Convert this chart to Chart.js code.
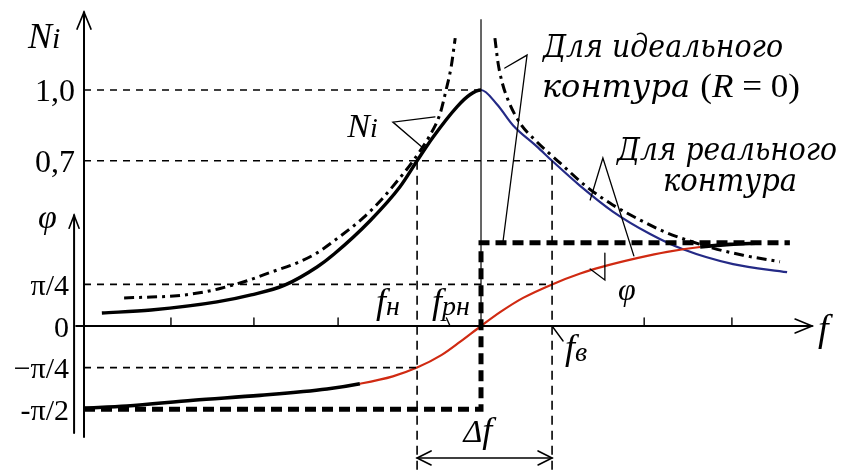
<!DOCTYPE html>
<html>
<head>
<meta charset="utf-8">
<script src="https://cdn.jsdelivr.net/npm/chart.js@4/dist/chart.umd.min.js"></script>
<style>
  html, body { margin: 0; padding: 0; background: #fff; overflow: hidden; }
</style>
</head>
<body>
<canvas id="grafico" width="842" height="472"></canvas>
<script>
// частота в долях резонансной: f / fрез
const fRez = 1.0;
const fN = 0.839;   // нижняя граница полосы
const fV = 1.179;   // верхняя граница полосы

// реальный контур, Ni
const niRealF = [0.045, 0.169, 0.335, 0.421, 0.504, 0.587, 0.630, 0.720, 0.796, 0.839, 0.879, 0.940, 0.972, 1.0,
                 1.04, 1.081, 1.141, 1.179, 1.249, 1.332, 1.426, 1.509, 1.635, 1.771];
const niReal  = [0.055, 0.068, 0.102, 0.132, 0.172, 0.250, 0.305, 0.445, 0.590, 0.70, 0.80, 0.93, 0.98, 1.0,
                 0.94, 0.85, 0.76, 0.70, 0.595, 0.485, 0.39, 0.325, 0.262, 0.228];

// идеальный контур (R = 0), две ветви до и после резонанса
const niIdealLeftF = [0.101, 0.169, 0.234, 0.302, 0.345, 0.411, 0.471, 0.537, 0.587, 0.645, 0.703, 0.746, 0.788, 0.829, 0.872, 0.897, 0.912, 0.925, 0.935];
const niIdealLeft  = [0.119, 0.123, 0.128, 0.144, 0.160, 0.192, 0.228, 0.268, 0.310, 0.380, 0.458, 0.530, 0.612, 0.70, 0.81, 0.90, 1.0, 1.1, 1.22];
const niIdealRightF = [1.035, 1.043, 1.053, 1.068, 1.098, 1.136, 1.199, 1.267, 1.332, 1.401, 1.469, 1.519, 1.584, 1.660, 1.753];
const niIdealRight  = [1.22, 1.114, 1.034, 0.958, 0.860, 0.788, 0.691, 0.589, 0.513, 0.449, 0.394, 0.364, 0.330, 0.300, 0.272];

// фаза, рад
const phiRealF = [0, 0.108, 0.275, 0.443, 0.612, 0.695, 0.778, 0.839, 0.90, 0.947, 1.0, 1.05, 1.106, 1.179, 1.25, 1.307, 1.393, 1.469, 1.552, 1.627, 1.703];
const phiReal  = [-1.55, -1.51, -1.40, -1.31, -1.19, -1.09, -0.95, -0.785, -0.55, -0.30, 0, 0.27, 0.53, 0.785, 0.99, 1.12, 1.28, 1.40, 1.49, 1.54, 1.565];
const phiIdealF = [0, fRez, fRez, 1.778];
const phiIdeal  = [-Math.PI / 2, -Math.PI / 2, Math.PI / 2, Math.PI / 2];

// подписи осей
const niTicks = [1.0, 0.7];
const niTickLabels = ['1,0', '0,7'];
const phiTicks = [Math.PI / 4, 0, -Math.PI / 4, -Math.PI / 2];
const phiTickLabels = ['π/4', '0', '−π/4', '-π/2'];
const fTicks = [0.219, 0.428, 0.640, 1.411, 1.632];

const SINIY = '#242a86';
const KRASNIY = '#d02a12';
const IT = s => `italic ${s}px "Liberation Serif"`;
const RM = s => `${s}px "Liberation Serif"`;
const KURSIV = s => `italic ${s}px "DejaVu Serif"`;

function tochki(xs, ys) {
  return xs.map((x, i) => ({ x: x, y: ys[i] }));
}

function pryamaya(x1, y1, x2, y2, os, dash) {
  return {
    data: [{ x: x1, y: y1 }, { x: x2, y: y2 }],
    yAxisID: os,
    borderColor: '#000',
    borderWidth: 1.6,
    borderDash: dash === undefined ? [7, 6] : dash,
    pointRadius: 0
  };
}

function liniya(ctx, pts) {
  ctx.beginPath();
  ctx.moveTo(pts[0][0], pts[0][1]);
  for (let i = 1; i < pts.length; i++) ctx.lineTo(pts[i][0], pts[i][1]);
  ctx.stroke();
}

// текст из кусков разного шрифта, при необходимости сжатый до ширины
function stroka(ctx, kuski, x, y, shirina) {
  let vsego = 0;
  kuski.forEach(k => { ctx.font = k.f; vsego += ctx.measureText(k.t).width; });
  const m = shirina ? shirina / vsego : 1;
  ctx.save();
  ctx.translate(x, y);
  ctx.scale(m, 1);
  let cx = 0;
  kuski.forEach(k => {
    ctx.font = k.f;
    ctx.fillText(k.t, cx, k.dy || 0);
    cx += ctx.measureText(k.t).width;
  });
  ctx.restore();
}

const oformlenie = {
  id: 'oformlenie',
  afterDatasetsDraw(chart) {
    const ctx = chart.ctx;
    const px = v => chart.scales.x.getPixelForValue(v);
    const py = v => chart.scales.y.getPixelForValue(v);
    const pp = v => chart.scales.yp.getPixelForValue(v);
    ctx.save();
    ctx.strokeStyle = '#000';
    ctx.fillStyle = '#000';
    ctx.lineCap = 'round';

    // ось Ni
    const x0 = px(0), y0 = py(0);
    ctx.lineWidth = 2;
    liniya(ctx, [[x0, py(-0.47)], [x0, py(1.33)]]);
    ctx.lineWidth = 1.6;
    liniya(ctx, [[x0 - 7, py(1.33) + 17], [x0, py(1.33)], [x0 + 7, py(1.33) + 17]]);

    // ось фазы
    const xf = px(-0.025);
    ctx.lineWidth = 2;
    liniya(ctx, [[xf, pp(-2.02)], [xf, pp(2.09)]]);
    ctx.lineWidth = 1.6;
    liniya(ctx, [[xf - 5, pp(2.09) + 13], [xf, pp(2.09)], [xf + 5, pp(2.09) + 13]]);

    // ось частот
    const xk = px(1.834);
    ctx.lineWidth = 1.8;
    liniya(ctx, [[px(-0.02), y0], [xk, y0]]);
    ctx.lineWidth = 1.6;
    liniya(ctx, [[xk - 17, y0 - 7], [xk, y0], [xk - 17, y0 + 7]]);
    ctx.lineWidth = 1.4;
    fTicks.forEach(f => liniya(ctx, [[px(f), y0], [px(f), y0 - 8]]));

    // подписи делений
    ctx.textAlign = 'right';
    ctx.textBaseline = 'middle';
    ctx.font = RM(32);
    niTicks.forEach((v, i) => ctx.fillText(niTickLabels[i], x0 - 9, py(v) + 3));
    ctx.font = RM(30);
    phiTicks.forEach((v, i) => ctx.fillText(phiTickLabels[i], xf - 5, pp(v) + 3));

    ctx.textAlign = 'left';
    ctx.textBaseline = 'alphabetic';
    stroka(ctx, [{ t: 'N', f: IT(36) }, { t: 'i', f: IT(30) }], x0 - 56, py(1.18));
    ctx.font = IT(34);
    ctx.fillText('φ', xf - 36, pp(1.85));
    ctx.font = IT(38);
    ctx.fillText('f', xk + 6, y0 + 15);

    // подписи кривых
    stroka(ctx, [{ t: 'N', f: IT(34) }, { t: 'i', f: IT(28) }], px(0.663), py(0.80));
    ctx.font = IT(32);
    ctx.fillText('φ', px(1.345), pp(0.49));

    // частоты
    stroka(ctx, [{ t: 'f', f: IT(36) }, { t: 'н', f: IT(28), dy: 2 }], px(fN) - 41, y0 - 13);
    stroka(ctx, [{ t: 'f', f: IT(36) }, { t: 'рн', f: IT(28), dy: 2 }], px(fN) + 15, y0 - 13);
    stroka(ctx, [{ t: 'f', f: IT(36) }, { t: 'в', f: IT(28), dy: 2 }], px(fV) + 13, y0 + 33);
    ctx.lineWidth = 1.4;
    liniya(ctx, [[px(fV), y0], [px(fV) + 11, y0 + 15]]);
    liniya(ctx, [[px(0.913), y0 - 8], [px(0.922), y0]]);

    // полоса пропускания
    const yd = py(-0.559);
    ctx.lineWidth = 1.6;
    liniya(ctx, [[px(fN), yd], [px(fV), yd]]);
    liniya(ctx, [[px(fN) + 14, yd - 7], [px(fN), yd], [px(fN) + 14, yd + 7]]);
    liniya(ctx, [[px(fV) - 14, yd - 7], [px(fV), yd], [px(fV) - 14, yd + 7]]);
    stroka(ctx, [{ t: 'Δ', f: IT(32) }, { t: 'f', f: IT(36) }], px(0.961) - 2, yd - 16);

    // выноски
    ctx.lineWidth = 1.3;
    liniya(ctx, [[px(0.884), py(0.886)], [px(0.778), py(0.864)], [px(0.854), py(0.754)]]);
    liniya(ctx, [[px(1.060), py(1.093)], [px(1.116), py(1.148)], [px(1.055), pp(Math.PI / 2)]]);
    liniya(ctx, [[px(1.275), py(0.534)], [px(1.307), py(0.712)], [px(1.385), py(0.297)]]);
    liniya(ctx, [[px(1.275), py(0.242)], [px(1.312), py(0.195)], [px(1.312), py(0.309)]]);

    // пояснения
    stroka(ctx, [{ t: 'Для идеального', f: KURSIV(31) }], 543, 57, 240);
    stroka(ctx, [{ t: 'контура ', f: KURSIV(31) }, { t: '(', f: RM(34) }, { t: 'R', f: IT(34) },
                 { t: ' = 0)', f: RM(34) }], 542, 97, 258);
    stroka(ctx, [{ t: 'Для реального', f: KURSIV(31) }], 617, 160, 220);
    stroka(ctx, [{ t: 'контура', f: KURSIV(31) }], 663, 191, 134);
    ctx.restore();
  }
};

const grafico = document.getElementById('grafico');
new Chart(grafico, {
  type: 'line',
  data: {
    datasets: [
      // уровни и границы полосы
      pryamaya(0, 1.0, fRez, 1.0, 'y'),
      pryamaya(0, 0.7, fV, 0.7, 'y'),
      pryamaya(0, Math.PI / 4, fV, Math.PI / 4, 'yp'),
      pryamaya(0, -Math.PI / 4, fN, -Math.PI / 4, 'yp'),
      pryamaya(fN, 0.7, fN, -0.62, 'y', [9, 6]),
      pryamaya(fV, 0.7, fV, -0.62, 'y', [9, 6]),
      Object.assign(pryamaya(fRez, 0, fRez, 1.3, 'y', []), { borderWidth: 1.2 }),
      {
        label: 'φ идеальный',
        data: tochki(phiIdealF, phiIdeal),
        yAxisID: 'yp',
        borderColor: '#000',
        borderWidth: 5,
        borderDash: [11, 6],
        pointRadius: 0
      },
      {
        label: 'Ni идеальный',
        data: tochki(niIdealLeftF, niIdealLeft),
        yAxisID: 'y',
        borderColor: '#000',
        borderWidth: 3,
        borderDash: [10, 5, 3, 5],
        cubicInterpolationMode: 'monotone',
        pointRadius: 0
      },
      {
        label: 'Ni идеальный',
        data: tochki(niIdealRightF, niIdealRight),
        yAxisID: 'y',
        borderColor: '#000',
        borderWidth: 3,
        borderDash: [10, 5, 3, 5],
        cubicInterpolationMode: 'monotone',
        pointRadius: 0
      },
      {
        label: 'φ реальный',
        data: tochki(phiRealF, phiReal),
        yAxisID: 'yp',
        cubicInterpolationMode: 'monotone',
        pointRadius: 0,
        segment: {
          borderColor: c => (c.p0.parsed.x < 0.695 || c.p0.parsed.x >= 1.552) ? '#000' : KRASNIY,
          borderWidth: c => (c.p0.parsed.x < 0.695 || c.p0.parsed.x >= 1.552) ? 3.6 : 2.2
        }
      },
      {
        label: 'Ni реальный',
        data: tochki(niRealF, niReal),
        yAxisID: 'y',
        cubicInterpolationMode: 'monotone',
        pointRadius: 0,
        segment: {
          borderColor: c => c.p0.parsed.x >= fRez ? SINIY : '#000',
          borderWidth: c => c.p0.parsed.x >= fRez ? 2.2 : 3.4
        }
      }
    ]
  },
  options: {
    responsive: false,
    animation: false,
    layout: { padding: 0 },
    plugins: { legend: { display: false }, tooltip: { enabled: false } },
    scales: {
      x: { type: 'linear', min: -0.2116, max: 1.9093, display: false },
      y: { min: -0.6186, max: 1.3814, display: false },
      yp: { min: -2.755, max: 6.151, display: false }
    }
  },
  plugins: [oformlenie]
});
</script>
</body>
</html>
